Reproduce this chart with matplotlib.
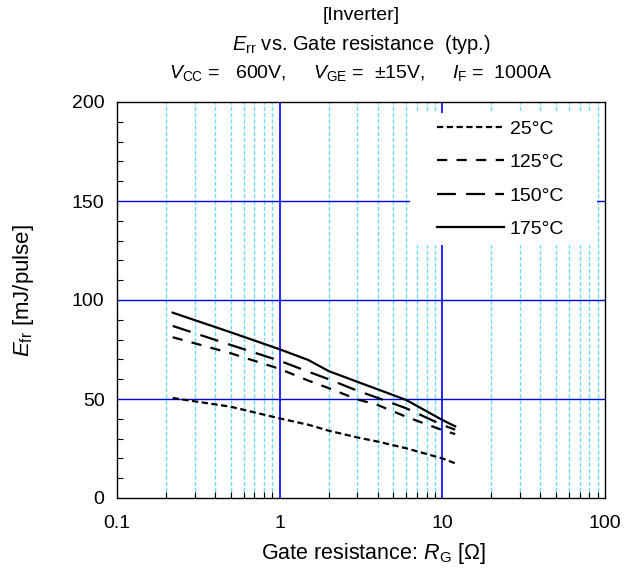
import matplotlib
matplotlib.use("Agg")
import matplotlib.pyplot as plt
from matplotlib.patches import Rectangle
from matplotlib.ticker import FixedLocator, MultipleLocator, NullFormatter, FixedFormatter

plt.rcParams['font.family'] = ['Liberation Sans', 'DejaVu Sans']
plt.rcParams['mathtext.fontset'] = 'custom'
plt.rcParams['mathtext.rm'] = 'Liberation Sans'
plt.rcParams['mathtext.it'] = 'Liberation Sans:italic'

# Data
rg = [0.22, 0.5, 1, 1.5, 2, 3, 4, 6, 10, 12]
err_175 = [93.6, 83.7, 75.1, 69.7, 64.1, 58.7, 54.9, 49.5, 39.4, 36.2]
err_150 = [86.9, 77.3, 69.3, 63.8, 60.0, 54.2, 50.6, 45.3, 36.9, 34.5]
err_125 = [81.2, 73.1, 65.2, 59.3, 55.5, 49.8, 47.0, 41.0, 34.3, 32.3]
err_25 = [50.5, 46.1, 40.2, 37.0, 34.0, 30.6, 28.5, 25.1, 20.0, 17.5]
labels = ["25°C", "125°C", "150°C", "175°C"]
x_ticks = [0.1, 1, 10, 100]
x_ticklabels = ["0.1", "1", "10", "100"]
y_ticks = [0, 50, 100, 150, 200]

fig = plt.figure(figsize=(6.31, 5.71), dpi=100)
ax = fig.add_axes([117/631, 1-498/571, (605-117)/631, (498-102)/571])

ax.set_xscale('log')
ax.set_xlim(0.1, 100)
ax.set_ylim(0, 200)

# grid
minor_x = [m * 10.0**e for e in (-1, 0, 1) for m in range(2, 10)]
for xv in minor_x:
    ax.axvline(xv, color='#66ddff', lw=1.0, ls=(0, (3, 1.5)), zorder=1)
for xv in [1, 10]:
    ax.axvline(xv, color='#0000ff', lw=1.2, zorder=1)
for yv in [50, 100, 150]:
    ax.axhline(yv, color='#0000dd', lw=1.0, zorder=1)

# legend background box
ax.add_patch(Rectangle((0.60, 0.638), 0.384, 0.334, transform=ax.transAxes,
                       facecolor='white', edgecolor='none', zorder=2))

lw = 1.6
ax.plot(rg, err_25, color='black', lw=lw, ls=(0, (2.8, 1.6)), label=labels[0], zorder=3)
ax.plot(rg, err_125, color='black', lw=lw, ls=(0, (4.6, 4.2)), label=labels[1], zorder=3)
ax.plot(rg, err_150, color='black', lw=lw, ls=(0, (8.5, 4.6)), label=labels[2], zorder=3)
ax.plot(rg, err_175, color='black', lw=lw, ls='-', label=labels[3], zorder=3)

ax.xaxis.set_major_locator(FixedLocator(x_ticks))
ax.xaxis.set_major_formatter(FixedFormatter(x_ticklabels))
ax.xaxis.set_minor_locator(FixedLocator(minor_x))
ax.xaxis.set_minor_formatter(NullFormatter())
ax.yaxis.set_major_locator(FixedLocator(y_ticks))
ax.yaxis.set_minor_locator(MultipleLocator(10))

ax.tick_params(which='both', direction='in', top=False, right=False, labelsize=14, colors='black')
ax.tick_params(which='major', length=0)
ax.tick_params(axis='x', which='major', pad=12)
ax.tick_params(axis='y', which='major', pad=9)
ax.tick_params(which='minor', length=4, width=0.8)
for s in ax.spines.values():
    s.set_linewidth(1.0)
    s.set_color('black')
    s.set_zorder(4)

leg = ax.legend(loc='upper left', bbox_to_anchor=((439 - 117) / 488 - 0.012, (498 - 116) / 396),
                frameon=False, fontsize=14, handlelength=3.45, handletextpad=0.3,
                labelspacing=0.82, borderpad=0.2, borderaxespad=0.0)
leg.set_zorder(5)

ax.set_xlabel(r"Gate resistance: $\mathit{R}_{\rm G}$ [Ω]", fontsize=15.5)
ax.set_ylabel(r"$\mathit{E}_{\rm fr}$ [mJ/pulse]", fontsize=16)
ax.xaxis.set_label_coords(0.525, -0.108)
ax.yaxis.set_label_coords(-0.165, 0.525)

cx = (117 + 605) / 2 / 631
fig.text(cx, 1 - 15/571, "[Inverter]", ha='center', va='center', fontsize=14)
fig.text(cx, 1 - 44/571, r"$\mathit{E}_{\rm rr}$ vs. Gate resistance  (typ.)", ha='center', va='center', fontsize=14.5)
fig.text(cx, 1 - 73/571, r"$\mathit{V}_{\rm CC}$ =   600V,     $\mathit{V}_{\rm GE}$ =  ±15V,     $\mathit{I}_{\rm F}$ =  1000A",
         ha='center', va='center', fontsize=14)

fig.savefig("out.png", dpi=100)
